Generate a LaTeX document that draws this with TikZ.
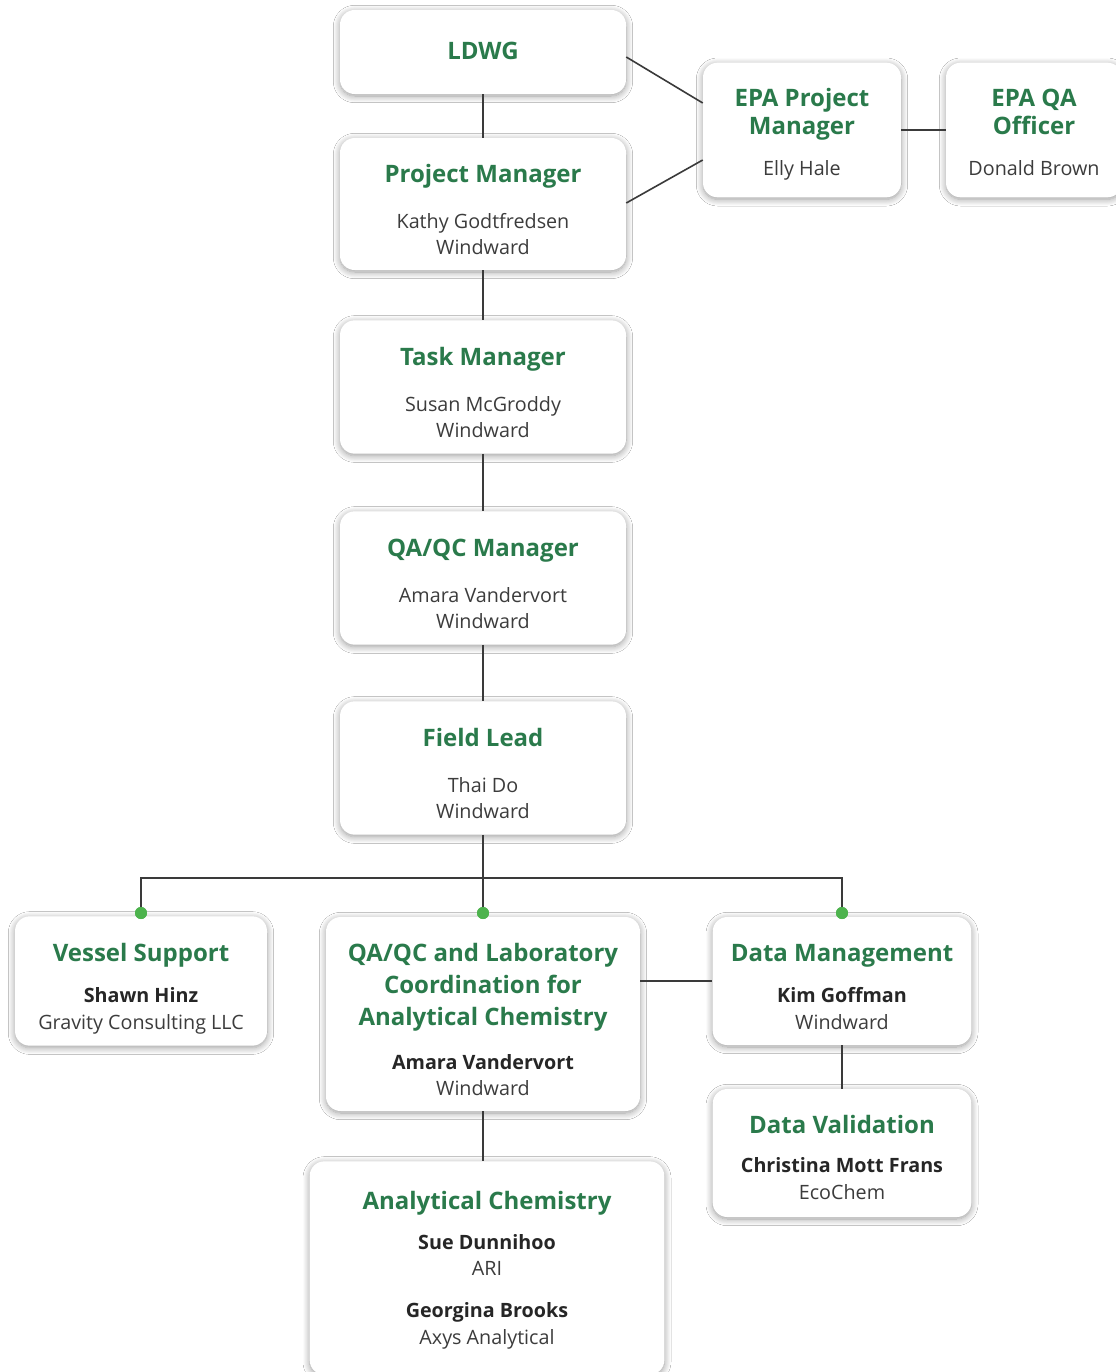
\documentclass[tikz,border=0pt]{standalone}
\usepackage{fontspec}
\setmainfont{Open Sans}
\usetikzlibrary{shadows.blur}
\definecolor{ttlgreen}{HTML}{2A7A4B}
\definecolor{bodygray}{HTML}{3C3C3C}
\definecolor{namegray}{HTML}{262626}
\definecolor{linegray}{HTML}{3A3A3A}
\definecolor{dotgreen}{HTML}{4DB34D}
% title line; optional arg = extra height of the strut (pushes text block down)
\newcommand{\ttl}[2][0pt]{{\color{ttlgreen}\fontsize{18}{24}\selectfont\bfseries\rule[-6pt]{0pt}{\dimexpr23pt+#1\relax}#2}}
\newcommand{\bdy}[1]{{\color{bodygray}\fontsize{14.8}{19.5}\selectfont\rule[-5.5pt]{0pt}{18.5pt}#1}}
\newcommand{\nme}[1]{{\color{namegray}\fontsize{14.8}{19.5}\selectfont\bfseries\rule[-5.5pt]{0pt}{18.5pt}#1}}
\begin{document}
\begin{tikzpicture}[x=0.75pt,y=-0.75pt,
  orgbox/.style={fill=white, rounded corners=11pt,
    align=center, inner sep=0pt, font=\fontsize{2}{2}\selectfont,
    blur shadow={shadow blur steps=10, shadow xshift=0pt, shadow yshift=-1.5pt, shadow blur radius=5pt, shadow opacity=40}},
  conn/.style={draw=linegray, line width=1.2pt},
  gdot/.style={circle, fill=dotgreen, inner sep=0pt, minimum size=9pt}]
\useasboundingbox (0,0) rectangle (1116,1372);
\fill[white] (0,0) rectangle (1116,1372);

\node[orgbox, minimum width=214.5pt, minimum height=63pt] (ldwg) at (483,52) {\ttl{LDWG}};
\node[orgbox, minimum width=214.5pt, minimum height=99pt] (pm) at (483,204)
  {\ttl[10.5pt]{Project Manager}\\[14.5pt]\bdy{Kathy Godtfredsen}\\\bdy{Windward}};
\node[orgbox, minimum width=214.5pt, minimum height=100pt] (tm) at (483,387)
  {\ttl[10.5pt]{Task Manager}\\[14.5pt]\bdy{Susan McGroddy}\\\bdy{Windward}};
\node[orgbox, minimum width=214.5pt, minimum height=100pt] (qm) at (483,578)
  {\ttl[10.5pt]{QA/QC Manager}\\[14.5pt]\bdy{Amara Vandervort}\\\bdy{Windward}};
\node[orgbox, minimum width=214.5pt, minimum height=100pt] (fl) at (483,768)
  {\ttl[10pt]{Field Lead}\\[14.5pt]\bdy{Thai Do}\\\bdy{Windward}};
\node[orgbox, minimum width=148.5pt, minimum height=101pt] (epm) at (802,130)
  {\ttl[5pt]{EPA Project}\\[-3pt]\ttl{Manager}\\[10.75pt]\bdy{Elly Hale}};
\node[orgbox, minimum width=132pt, minimum height=101pt] (eqa) at (1034,130)
  {\ttl[5pt]{EPA QA}\\[-3pt]\ttl{Officer}\\[10.75pt]\bdy{Donald Brown}};
\node[orgbox, minimum width=189pt, minimum height=97pt] (vs) at (141,981)
  {\ttl[10pt]{Vessel Support}\\[10.75pt]\nme{Shawn Hinz}\\[0.75pt]\bdy{Gravity Consulting LLC}};
\node[orgbox, minimum width=235.5pt, minimum height=145.5pt] (ql) at (483,1014)
  {\ttl[10pt]{QA/QC and Laboratory}\\\ttl{Coordination for}\\\ttl{Analytical Chemistry}\\[13pt]\nme{Amara Vandervort}\\\bdy{Windward}};
\node[orgbox, minimum width=194pt, minimum height=96pt] (dm) at (842,981)
  {\ttl[10pt]{Data Management}\\[10.75pt]\nme{Kim Goffman}\\[0.75pt]\bdy{Windward}};
\node[orgbox, minimum width=194pt, minimum height=96pt] (dv) at (842,1153)
  {\ttl[9pt]{Data Validation}\\[9.25pt]\nme{Christina Mott Frans}\\[0.75pt]\bdy{EcoChem}};
\node[orgbox, minimum width=266pt, minimum height=160pt] (ac) at (487,1268)
  {\ttl[2pt]{Analytical Chemistry}\\[10pt]\nme{Sue Dunnihoo}\\\bdy{ARI}\\[12pt]\nme{Georgina Brooks}\\[0.75pt]\bdy{Axys Analytical}};

\coordinate (j) at (483,878);
\node[gdot] (d1) at (141,913) {};
\node[gdot] (d2) at (483,913) {};
\node[gdot] (d3) at (842,913) {};

\draw[conn] (ldwg.south) -- (pm.north);
\draw[conn] (pm.south) -- (tm.north);
\draw[conn] (tm.south) -- (qm.north);
\draw[conn] (qm.south) -- (fl.north);
\draw[conn] (fl.south) -- (j);
\draw[conn] (ldwg.east |- 0,57) -- (epm.west |- 0,103);
\draw[conn] (pm.east |- 0,203) -- (epm.west |- 0,160);
\draw[conn] (epm.east) -- (eqa.west);
\draw[conn] (d1.center) |- (j) -| (d3.center);
\draw[conn] (j) -- (d2.center);
\draw[conn] (ql.east |- dm.west) -- (dm.west);
\draw[conn] (dm.south) -- (dv.north);
\draw[conn] (ql.south) -- (ac.north -| ql.south);
\node[gdot] at (d1) {};
\node[gdot] at (d2) {};
\node[gdot] at (d3) {};
\end{tikzpicture}
\end{document}
